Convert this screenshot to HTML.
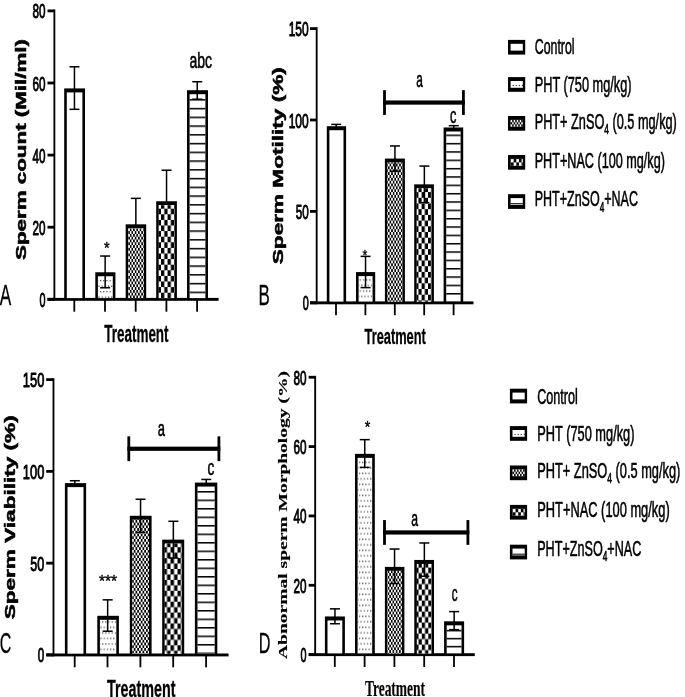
<!DOCTYPE html>
<html><head><meta charset="utf-8"><title>Figure</title>
<style>html,body{margin:0;padding:0;background:#fff;}svg{display:block;will-change:transform;filter:grayscale(1);}text{fill:#000;}</style>
</head><body>
<svg width="685" height="697" viewBox="0 0 685 697">
<defs>
<pattern id="dotsA" x="100.00" y="280.05" width="3.2" height="11" patternUnits="userSpaceOnUse">
<rect x="0" y="0" width="1.2" height="1.3" fill="#444"/><rect x="1.6" y="5.5" width="1.2" height="1.3" fill="#444"/></pattern>
<pattern id="diamA" x="161.00" y="203.10" width="3.280" height="5.600" patternUnits="userSpaceOnUse">
<rect width="3.280" height="5.600" fill="#fff"/><rect x="0" y="0" width="1.640" height="2.800" fill="#000"/><rect x="1.640" y="2.800" width="1.640" height="2.800" fill="#000"/></pattern>
<pattern id="checkA" x="161.00" y="203.10" width="6.560" height="11.200" patternUnits="userSpaceOnUse">
<rect width="6.560" height="11.200" fill="#fff"/><rect x="0" y="0" width="3.280" height="5.600" fill="#000"/><rect x="3.280" y="5.600" width="3.280" height="5.600" fill="#000"/></pattern>
<pattern id="stripeA" x="0" y="107.85" width="8" height="8.75" patternUnits="userSpaceOnUse">
<rect x="0" y="0" width="8" height="1.5" fill="#000"/></pattern>
<pattern id="dotsB" x="359.60" y="279.35" width="3.2" height="11" patternUnits="userSpaceOnUse">
<rect x="0" y="0" width="1.2" height="1.3" fill="#444"/><rect x="1.6" y="5.5" width="1.2" height="1.3" fill="#444"/></pattern>
<pattern id="diamB" x="421.60" y="192.10" width="3.200" height="5.700" patternUnits="userSpaceOnUse">
<rect width="3.200" height="5.700" fill="#fff"/><rect x="0" y="0" width="1.600" height="2.850" fill="#000"/><rect x="1.600" y="2.850" width="1.600" height="2.850" fill="#000"/></pattern>
<pattern id="checkB" x="421.60" y="192.10" width="6.400" height="11.400" patternUnits="userSpaceOnUse">
<rect width="6.400" height="11.400" fill="#fff"/><rect x="0" y="0" width="3.200" height="5.700" fill="#000"/><rect x="3.200" y="5.700" width="3.200" height="5.700" fill="#000"/></pattern>
<pattern id="stripeB" x="0" y="176.25" width="8" height="8.34" patternUnits="userSpaceOnUse">
<rect x="0" y="0" width="8" height="1.5" fill="#000"/></pattern>
<pattern id="dotsC" x="102.00" y="621.35" width="3.2" height="11" patternUnits="userSpaceOnUse">
<rect x="0" y="0" width="1.2" height="1.3" fill="#444"/><rect x="1.6" y="5.5" width="1.2" height="1.3" fill="#444"/></pattern>
<pattern id="diamC" x="170.50" y="547.20" width="3.500" height="5.450" patternUnits="userSpaceOnUse">
<rect width="3.500" height="5.450" fill="#fff"/><rect x="0" y="0" width="1.750" height="2.725" fill="#000"/><rect x="1.750" y="2.725" width="1.750" height="2.725" fill="#000"/></pattern>
<pattern id="checkC" x="170.50" y="547.20" width="7.000" height="10.900" patternUnits="userSpaceOnUse">
<rect width="7.000" height="10.900" fill="#fff"/><rect x="0" y="0" width="3.500" height="5.450" fill="#000"/><rect x="3.500" y="5.450" width="3.500" height="5.450" fill="#000"/></pattern>
<pattern id="stripeC" x="0" y="491.05" width="8" height="8.5" patternUnits="userSpaceOnUse">
<rect x="0" y="0" width="8" height="1.5" fill="#000"/></pattern>
<pattern id="dotsD" x="358.90" y="461.65" width="3.2" height="11" patternUnits="userSpaceOnUse">
<rect x="0" y="0" width="1.2" height="1.3" fill="#444"/><rect x="1.6" y="5.5" width="1.2" height="1.3" fill="#444"/></pattern>
<pattern id="diamD" x="421.80" y="567.60" width="3.250" height="5.500" patternUnits="userSpaceOnUse">
<rect width="3.250" height="5.500" fill="#fff"/><rect x="0" y="0" width="1.625" height="2.750" fill="#000"/><rect x="1.625" y="2.750" width="1.625" height="2.750" fill="#000"/></pattern>
<pattern id="checkD" x="421.80" y="567.60" width="6.500" height="11.000" patternUnits="userSpaceOnUse">
<rect width="6.500" height="11.000" fill="#fff"/><rect x="0" y="0" width="3.250" height="5.500" fill="#000"/><rect x="3.250" y="5.500" width="3.250" height="5.500" fill="#000"/></pattern>
<pattern id="stripeD" x="0" y="637.85" width="8" height="8.0" patternUnits="userSpaceOnUse">
<rect x="0" y="0" width="8" height="1.5" fill="#000"/></pattern>
</defs>
<rect width="685" height="697" fill="#fff"/>
<rect x="53.45" y="9.50" width="1.85" height="291.20" fill="#000"/>
<rect x="47.50" y="297.90" width="171.10" height="2.90" fill="#000"/>
<rect x="47.50" y="297.90" width="6.80" height="2.80" fill="#000"/>
<text x="39.6" y="306.86" font-family='"Liberation Sans", sans-serif' font-size="21" font-weight="normal" text-anchor="start" textLength="6.0" lengthAdjust="spacingAndGlyphs" stroke="#000" stroke-width="1.0" stroke-linejoin="round" >0</text>
<rect x="47.50" y="225.80" width="6.80" height="2.80" fill="#000"/>
<text x="32.6" y="234.76000000000002" font-family='"Liberation Sans", sans-serif' font-size="21" font-weight="normal" text-anchor="start" textLength="13.0" lengthAdjust="spacingAndGlyphs" stroke="#000" stroke-width="1.0" stroke-linejoin="round" >20</text>
<rect x="47.50" y="153.70" width="6.80" height="2.80" fill="#000"/>
<text x="32.6" y="162.66000000000003" font-family='"Liberation Sans", sans-serif' font-size="21" font-weight="normal" text-anchor="start" textLength="13.0" lengthAdjust="spacingAndGlyphs" stroke="#000" stroke-width="1.0" stroke-linejoin="round" >40</text>
<rect x="47.50" y="81.60" width="6.80" height="2.80" fill="#000"/>
<text x="32.6" y="90.56" font-family='"Liberation Sans", sans-serif' font-size="21" font-weight="normal" text-anchor="start" textLength="13.0" lengthAdjust="spacingAndGlyphs" stroke="#000" stroke-width="1.0" stroke-linejoin="round" >60</text>
<rect x="47.50" y="9.50" width="6.80" height="2.80" fill="#000"/>
<text x="32.6" y="18.460000000000033" font-family='"Liberation Sans", sans-serif' font-size="21" font-weight="normal" text-anchor="start" textLength="13.0" lengthAdjust="spacingAndGlyphs" stroke="#000" stroke-width="1.0" stroke-linejoin="round" >80</text>
<rect x="73.40" y="299.30" width="1.80" height="12.40" fill="#000"/>
<rect x="104.10" y="299.30" width="1.80" height="12.40" fill="#000"/>
<rect x="134.80" y="299.30" width="1.80" height="12.40" fill="#000"/>
<rect x="165.50" y="299.30" width="1.80" height="12.40" fill="#000"/>
<rect x="196.20" y="299.30" width="1.80" height="12.40" fill="#000"/>
<rect x="64.20" y="88.41" width="20.80" height="210.89" fill="#000"/>
<rect x="66.80" y="92.41" width="15.60" height="205.69" fill="#fff"/>
<line x1="74.45" y1="66.78" x2="74.45" y2="89.41" stroke="#000" stroke-width="1.5"/>
<rect x="69.45" y="66.03" width="10.00" height="1.50" fill="#000"/>
<line x1="74.45" y1="88.41" x2="74.45" y2="109.32" stroke="#000" stroke-width="1.5"/>
<rect x="69.45" y="108.57" width="10.00" height="1.50" fill="#000"/>
<rect x="95.30" y="272.26" width="20.10" height="27.04" fill="#000"/>
<rect x="97.90" y="276.26" width="14.90" height="21.84" fill="#fff"/>
<rect x="97.90" y="276.26" width="14.90" height="21.84" fill="url(#dotsA)"/>
<line x1="105.15" y1="256.04" x2="105.15" y2="273.26" stroke="#000" stroke-width="1.5"/>
<rect x="100.15" y="255.29" width="10.00" height="1.50" fill="#000"/>
<line x1="105.15" y1="272.26" x2="105.15" y2="287.76" stroke="#000" stroke-width="1.5"/>
<rect x="100.15" y="287.01" width="10.00" height="1.50" fill="#000"/>
<rect x="125.70" y="224.32" width="20.50" height="74.98" fill="#000"/>
<rect x="128.30" y="228.32" width="15.30" height="69.78" fill="#fff"/>
<rect x="128.30" y="228.32" width="15.30" height="69.78" fill="url(#diamA)"/>
<line x1="135.85" y1="198.36" x2="135.85" y2="225.32" stroke="#000" stroke-width="1.5"/>
<rect x="130.85" y="197.61" width="10.00" height="1.50" fill="#000"/>
<rect x="156.20" y="201.24" width="20.70" height="98.06" fill="#000"/>
<rect x="158.80" y="205.24" width="15.50" height="92.86" fill="#fff"/>
<rect x="158.80" y="205.24" width="15.50" height="92.86" fill="url(#checkA)"/>
<line x1="166.55" y1="170.24" x2="166.55" y2="202.24" stroke="#000" stroke-width="1.5"/>
<rect x="161.55" y="169.49" width="10.00" height="1.50" fill="#000"/>
<rect x="187.00" y="90.21" width="21.00" height="209.09" fill="#000"/>
<rect x="189.60" y="94.21" width="15.80" height="203.89" fill="#fff"/>
<rect x="189.60" y="94.21" width="15.80" height="203.89" fill="url(#stripeA)"/>
<line x1="197.25" y1="81.74" x2="197.25" y2="91.21" stroke="#000" stroke-width="1.5"/>
<rect x="192.25" y="80.99" width="10.00" height="1.50" fill="#000"/>
<line x1="197.25" y1="90.21" x2="197.25" y2="99.22" stroke="#000" stroke-width="1.5"/>
<rect x="192.25" y="98.47" width="10.00" height="1.50" fill="#000"/>
<rect x="315.75" y="27.20" width="1.85" height="277.00" fill="#000"/>
<rect x="310.00" y="301.40" width="163.50" height="2.90" fill="#000"/>
<rect x="310.00" y="301.40" width="6.60" height="2.80" fill="#000"/>
<text x="302.7" y="310.36" font-family='"Liberation Sans", sans-serif' font-size="21" font-weight="normal" text-anchor="start" textLength="6.0" lengthAdjust="spacingAndGlyphs" stroke="#000" stroke-width="1.0" stroke-linejoin="round" >0</text>
<rect x="310.00" y="210.00" width="6.60" height="2.80" fill="#000"/>
<text x="295.7" y="218.96" font-family='"Liberation Sans", sans-serif' font-size="21" font-weight="normal" text-anchor="start" textLength="13.0" lengthAdjust="spacingAndGlyphs" stroke="#000" stroke-width="1.0" stroke-linejoin="round" >50</text>
<rect x="310.00" y="118.60" width="6.60" height="2.80" fill="#000"/>
<text x="288.7" y="127.56" font-family='"Liberation Sans", sans-serif' font-size="21" font-weight="normal" text-anchor="start" textLength="20.0" lengthAdjust="spacingAndGlyphs" stroke="#000" stroke-width="1.0" stroke-linejoin="round" >100</text>
<rect x="310.00" y="27.20" width="6.60" height="2.80" fill="#000"/>
<text x="288.7" y="36.160000000000025" font-family='"Liberation Sans", sans-serif' font-size="21" font-weight="normal" text-anchor="start" textLength="20.0" lengthAdjust="spacingAndGlyphs" stroke="#000" stroke-width="1.0" stroke-linejoin="round" >150</text>
<rect x="335.10" y="302.80" width="1.80" height="12.40" fill="#000"/>
<rect x="364.50" y="302.80" width="1.80" height="12.40" fill="#000"/>
<rect x="393.90" y="302.80" width="1.80" height="12.40" fill="#000"/>
<rect x="423.30" y="302.80" width="1.80" height="12.40" fill="#000"/>
<rect x="452.70" y="302.80" width="1.80" height="12.40" fill="#000"/>
<rect x="326.80" y="126.22" width="19.30" height="176.58" fill="#000"/>
<rect x="329.40" y="130.22" width="14.10" height="171.38" fill="#fff"/>
<line x1="336.15" y1="124.39" x2="336.15" y2="127.22" stroke="#000" stroke-width="1.5"/>
<rect x="331.15" y="123.64" width="10.00" height="1.50" fill="#000"/>
<rect x="356.00" y="272.09" width="19.20" height="30.71" fill="#000"/>
<rect x="358.60" y="276.09" width="14.00" height="25.51" fill="#fff"/>
<rect x="358.60" y="276.09" width="14.00" height="25.51" fill="url(#dotsB)"/>
<line x1="365.55" y1="256.37" x2="365.55" y2="273.09" stroke="#000" stroke-width="1.5"/>
<rect x="360.55" y="255.62" width="10.00" height="1.50" fill="#000"/>
<line x1="365.55" y1="272.09" x2="365.55" y2="287.63" stroke="#000" stroke-width="1.5"/>
<rect x="360.55" y="286.88" width="10.00" height="1.50" fill="#000"/>
<rect x="384.90" y="158.57" width="20.00" height="144.23" fill="#000"/>
<rect x="387.50" y="162.57" width="14.80" height="139.03" fill="#fff"/>
<rect x="387.50" y="162.57" width="14.80" height="139.03" fill="url(#diamB)"/>
<line x1="394.95" y1="145.96" x2="394.95" y2="159.57" stroke="#000" stroke-width="1.5"/>
<rect x="389.95" y="145.21" width="10.00" height="1.50" fill="#000"/>
<line x1="394.95" y1="158.57" x2="394.95" y2="171.18" stroke="#000" stroke-width="1.5"/>
<rect x="389.95" y="170.43" width="10.00" height="1.50" fill="#000"/>
<rect x="414.20" y="184.35" width="19.70" height="118.45" fill="#000"/>
<rect x="416.80" y="188.35" width="14.50" height="113.25" fill="#fff"/>
<rect x="416.80" y="188.35" width="14.50" height="113.25" fill="url(#checkB)"/>
<line x1="424.35" y1="166.07" x2="424.35" y2="185.35" stroke="#000" stroke-width="1.5"/>
<rect x="419.35" y="165.32" width="10.00" height="1.50" fill="#000"/>
<line x1="424.35" y1="184.35" x2="424.35" y2="202.63" stroke="#000" stroke-width="1.5"/>
<rect x="419.35" y="201.88" width="10.00" height="1.50" fill="#000"/>
<rect x="443.60" y="127.49" width="19.60" height="175.31" fill="#000"/>
<rect x="446.20" y="131.49" width="14.40" height="170.11" fill="#fff"/>
<rect x="446.20" y="131.49" width="14.40" height="170.11" fill="url(#stripeB)"/>
<line x1="453.75" y1="125.67" x2="453.75" y2="128.49" stroke="#000" stroke-width="1.5"/>
<rect x="448.75" y="124.92" width="10.00" height="1.50" fill="#000"/>
<rect x="52.55" y="378.20" width="1.85" height="278.10" fill="#000"/>
<rect x="46.20" y="653.50" width="182.40" height="2.90" fill="#000"/>
<rect x="46.20" y="653.50" width="7.20" height="2.80" fill="#000"/>
<text x="37.8" y="662.4599999999999" font-family='"Liberation Sans", sans-serif' font-size="21" font-weight="normal" text-anchor="start" textLength="6.5" lengthAdjust="spacingAndGlyphs" stroke="#000" stroke-width="1.0" stroke-linejoin="round" >0</text>
<rect x="46.20" y="561.74" width="7.20" height="2.80" fill="#000"/>
<text x="30.299999999999997" y="570.6949999999999" font-family='"Liberation Sans", sans-serif' font-size="21" font-weight="normal" text-anchor="start" textLength="14.0" lengthAdjust="spacingAndGlyphs" stroke="#000" stroke-width="1.0" stroke-linejoin="round" >50</text>
<rect x="46.20" y="469.97" width="7.20" height="2.80" fill="#000"/>
<text x="22.799999999999997" y="478.93" font-family='"Liberation Sans", sans-serif' font-size="21" font-weight="normal" text-anchor="start" textLength="21.5" lengthAdjust="spacingAndGlyphs" stroke="#000" stroke-width="1.0" stroke-linejoin="round" >100</text>
<rect x="46.20" y="378.20" width="7.20" height="2.80" fill="#000"/>
<text x="22.799999999999997" y="387.16499999999996" font-family='"Liberation Sans", sans-serif' font-size="21" font-weight="normal" text-anchor="start" textLength="21.5" lengthAdjust="spacingAndGlyphs" stroke="#000" stroke-width="1.0" stroke-linejoin="round" >150</text>
<rect x="73.80" y="654.90" width="1.80" height="12.40" fill="#000"/>
<rect x="106.60" y="654.90" width="1.80" height="12.40" fill="#000"/>
<rect x="139.50" y="654.90" width="1.80" height="12.40" fill="#000"/>
<rect x="172.30" y="654.90" width="1.80" height="12.40" fill="#000"/>
<rect x="205.20" y="654.90" width="1.80" height="12.40" fill="#000"/>
<rect x="64.90" y="483.12" width="21.20" height="171.78" fill="#000"/>
<rect x="67.50" y="487.12" width="16.00" height="166.58" fill="#fff"/>
<line x1="74.85" y1="480.73" x2="74.85" y2="484.12" stroke="#000" stroke-width="1.5"/>
<rect x="69.85" y="479.98" width="10.00" height="1.50" fill="#000"/>
<rect x="97.30" y="615.81" width="21.60" height="39.09" fill="#000"/>
<rect x="99.90" y="619.81" width="16.40" height="33.89" fill="#fff"/>
<rect x="99.90" y="619.81" width="16.40" height="33.89" fill="url(#dotsC)"/>
<line x1="107.65" y1="599.84" x2="107.65" y2="616.81" stroke="#000" stroke-width="1.5"/>
<rect x="102.65" y="599.09" width="10.00" height="1.50" fill="#000"/>
<line x1="107.65" y1="615.81" x2="107.65" y2="631.22" stroke="#000" stroke-width="1.5"/>
<rect x="102.65" y="630.47" width="10.00" height="1.50" fill="#000"/>
<rect x="129.80" y="515.78" width="21.80" height="139.12" fill="#000"/>
<rect x="132.40" y="519.78" width="16.60" height="133.92" fill="#fff"/>
<rect x="132.40" y="519.78" width="16.60" height="133.92" fill="url(#diamC)"/>
<line x1="140.55" y1="499.27" x2="140.55" y2="516.78" stroke="#000" stroke-width="1.5"/>
<rect x="135.55" y="498.52" width="10.00" height="1.50" fill="#000"/>
<line x1="140.55" y1="515.78" x2="140.55" y2="532.30" stroke="#000" stroke-width="1.5"/>
<rect x="135.55" y="531.55" width="10.00" height="1.50" fill="#000"/>
<rect x="162.20" y="539.64" width="22.00" height="115.26" fill="#000"/>
<rect x="164.80" y="543.64" width="16.80" height="110.06" fill="#fff"/>
<rect x="164.80" y="543.64" width="16.80" height="110.06" fill="url(#checkC)"/>
<line x1="173.35" y1="521.29" x2="173.35" y2="540.64" stroke="#000" stroke-width="1.5"/>
<rect x="168.35" y="520.54" width="10.00" height="1.50" fill="#000"/>
<line x1="173.35" y1="539.64" x2="173.35" y2="558.00" stroke="#000" stroke-width="1.5"/>
<rect x="168.35" y="557.25" width="10.00" height="1.50" fill="#000"/>
<rect x="194.90" y="482.57" width="22.40" height="172.33" fill="#000"/>
<rect x="197.50" y="486.57" width="17.20" height="167.13" fill="#fff"/>
<rect x="197.50" y="486.57" width="17.20" height="167.13" fill="url(#stripeC)"/>
<line x1="206.25" y1="479.45" x2="206.25" y2="483.57" stroke="#000" stroke-width="1.5"/>
<rect x="201.25" y="478.70" width="10.00" height="1.50" fill="#000"/>
<rect x="314.25" y="375.84" width="1.85" height="280.16" fill="#000"/>
<rect x="308.70" y="653.20" width="166.10" height="2.90" fill="#000"/>
<rect x="308.70" y="653.20" width="6.40" height="2.80" fill="#000"/>
<text x="300.5" y="662.16" font-family='"Liberation Sans", sans-serif' font-size="21" font-weight="normal" text-anchor="start" textLength="6.0" lengthAdjust="spacingAndGlyphs" stroke="#000" stroke-width="1.0" stroke-linejoin="round" >0</text>
<rect x="308.70" y="583.86" width="6.40" height="2.80" fill="#000"/>
<text x="293.5" y="592.8199999999999" font-family='"Liberation Sans", sans-serif' font-size="21" font-weight="normal" text-anchor="start" textLength="13.0" lengthAdjust="spacingAndGlyphs" stroke="#000" stroke-width="1.0" stroke-linejoin="round" >20</text>
<rect x="308.70" y="514.52" width="6.40" height="2.80" fill="#000"/>
<text x="293.5" y="523.48" font-family='"Liberation Sans", sans-serif' font-size="21" font-weight="normal" text-anchor="start" textLength="13.0" lengthAdjust="spacingAndGlyphs" stroke="#000" stroke-width="1.0" stroke-linejoin="round" >40</text>
<rect x="308.70" y="445.18" width="6.40" height="2.80" fill="#000"/>
<text x="293.5" y="454.14000000000004" font-family='"Liberation Sans", sans-serif' font-size="21" font-weight="normal" text-anchor="start" textLength="13.0" lengthAdjust="spacingAndGlyphs" stroke="#000" stroke-width="1.0" stroke-linejoin="round" >60</text>
<rect x="308.70" y="375.84" width="6.40" height="2.80" fill="#000"/>
<text x="293.5" y="384.8" font-family='"Liberation Sans", sans-serif' font-size="21" font-weight="normal" text-anchor="start" textLength="13.0" lengthAdjust="spacingAndGlyphs" stroke="#000" stroke-width="1.0" stroke-linejoin="round" >80</text>
<rect x="333.90" y="654.60" width="1.80" height="12.40" fill="#000"/>
<rect x="363.70" y="654.60" width="1.80" height="12.40" fill="#000"/>
<rect x="393.50" y="654.60" width="1.80" height="12.40" fill="#000"/>
<rect x="423.30" y="654.60" width="1.80" height="12.40" fill="#000"/>
<rect x="453.10" y="654.60" width="1.80" height="12.40" fill="#000"/>
<rect x="324.90" y="616.46" width="20.00" height="38.14" fill="#000"/>
<rect x="327.50" y="620.46" width="14.80" height="32.94" fill="#fff"/>
<line x1="334.95" y1="608.84" x2="334.95" y2="617.46" stroke="#000" stroke-width="1.5"/>
<rect x="329.95" y="608.09" width="10.00" height="1.50" fill="#000"/>
<line x1="334.95" y1="616.46" x2="334.95" y2="623.74" stroke="#000" stroke-width="1.5"/>
<rect x="329.95" y="622.99" width="10.00" height="1.50" fill="#000"/>
<rect x="355.00" y="453.86" width="19.80" height="200.74" fill="#000"/>
<rect x="357.60" y="457.86" width="14.60" height="195.54" fill="#fff"/>
<rect x="357.60" y="457.86" width="14.60" height="195.54" fill="url(#dotsD)"/>
<line x1="364.75" y1="439.65" x2="364.75" y2="454.86" stroke="#000" stroke-width="1.5"/>
<rect x="359.75" y="438.90" width="10.00" height="1.50" fill="#000"/>
<line x1="364.75" y1="453.86" x2="364.75" y2="467.38" stroke="#000" stroke-width="1.5"/>
<rect x="359.75" y="466.63" width="10.00" height="1.50" fill="#000"/>
<rect x="384.90" y="566.88" width="19.50" height="87.72" fill="#000"/>
<rect x="387.50" y="570.88" width="14.30" height="82.52" fill="#fff"/>
<rect x="387.50" y="570.88" width="14.30" height="82.52" fill="url(#diamD)"/>
<line x1="394.55" y1="549.03" x2="394.55" y2="567.88" stroke="#000" stroke-width="1.5"/>
<rect x="389.55" y="548.28" width="10.00" height="1.50" fill="#000"/>
<line x1="394.55" y1="566.88" x2="394.55" y2="583.53" stroke="#000" stroke-width="1.5"/>
<rect x="389.55" y="582.78" width="10.00" height="1.50" fill="#000"/>
<rect x="414.30" y="559.95" width="19.70" height="94.65" fill="#000"/>
<rect x="416.90" y="563.95" width="14.50" height="89.45" fill="#fff"/>
<rect x="416.90" y="563.95" width="14.50" height="89.45" fill="url(#checkD)"/>
<line x1="424.35" y1="542.96" x2="424.35" y2="560.95" stroke="#000" stroke-width="1.5"/>
<rect x="419.35" y="542.21" width="10.00" height="1.50" fill="#000"/>
<line x1="424.35" y1="559.95" x2="424.35" y2="576.25" stroke="#000" stroke-width="1.5"/>
<rect x="419.35" y="575.50" width="10.00" height="1.50" fill="#000"/>
<rect x="444.10" y="621.32" width="20.00" height="33.28" fill="#000"/>
<rect x="446.70" y="625.32" width="14.80" height="28.08" fill="#fff"/>
<rect x="446.70" y="625.32" width="14.80" height="28.08" fill="url(#stripeD)"/>
<line x1="454.15" y1="611.61" x2="454.15" y2="622.32" stroke="#000" stroke-width="1.5"/>
<rect x="449.15" y="610.86" width="10.00" height="1.50" fill="#000"/>
<line x1="454.15" y1="621.32" x2="454.15" y2="629.64" stroke="#000" stroke-width="1.5"/>
<rect x="449.15" y="628.89" width="10.00" height="1.50" fill="#000"/>
<text x="-0.3" y="304.5" font-family='"Liberation Sans", sans-serif' font-size="29.5" font-weight="normal" text-anchor="start" textLength="11.5" lengthAdjust="spacingAndGlyphs" stroke="#000" stroke-width="0.3" stroke-linejoin="round" >A</text>
<text x="258.6" y="304.5" font-family='"Liberation Sans", sans-serif' font-size="29.5" font-weight="normal" text-anchor="start" textLength="11.3" lengthAdjust="spacingAndGlyphs" stroke="#000" stroke-width="0.3" stroke-linejoin="round" >B</text>
<text x="-0.3" y="653.3" font-family='"Liberation Sans", sans-serif' font-size="29.5" font-weight="normal" text-anchor="start" textLength="11.6" lengthAdjust="spacingAndGlyphs" stroke="#000" stroke-width="0.3" stroke-linejoin="round" >C</text>
<text x="258.8" y="652.9" font-family='"Liberation Sans", sans-serif' font-size="29.5" font-weight="normal" text-anchor="start" textLength="11.7" lengthAdjust="spacingAndGlyphs" stroke="#000" stroke-width="0.3" stroke-linejoin="round" >D</text>
<text x="104.2" y="342.2" font-family='"Liberation Sans", sans-serif' font-size="23" font-weight="bold" text-anchor="start" textLength="64.4" lengthAdjust="spacingAndGlyphs" stroke="#000" stroke-width="0.3" stroke-linejoin="round" >Treatment</text>
<text x="364.5" y="343.9" font-family='"Liberation Sans", sans-serif' font-size="22.5" font-weight="bold" text-anchor="start" textLength="61.4" lengthAdjust="spacingAndGlyphs" stroke="#000" stroke-width="0.3" stroke-linejoin="round" >Treatment</text>
<text x="107.0" y="696.8" font-family='"Liberation Sans", sans-serif' font-size="23" font-weight="bold" text-anchor="start" textLength="68.4" lengthAdjust="spacingAndGlyphs" stroke="#000" stroke-width="0.3" stroke-linejoin="round" >Treatment</text>
<text x="364.9" y="696.4" font-family='"Liberation Serif", serif' font-size="23.5" font-weight="bold" text-anchor="start" textLength="60.2" lengthAdjust="spacingAndGlyphs" stroke="#000" stroke-width="0.15" stroke-linejoin="round" >Treatment</text>
<text transform="translate(25.6,260) rotate(-90)" x="0" y="0" font-family='"Liberation Sans", sans-serif' font-size="14" font-weight="bold" textLength="221" lengthAdjust="spacingAndGlyphs" stroke="#000" stroke-width="0.5">Sperm count (Mil/ml)</text>
<text transform="translate(282.6,264.2) rotate(-90)" x="0" y="0" font-family='"Liberation Sans", sans-serif' font-size="14" font-weight="bold" textLength="197" lengthAdjust="spacingAndGlyphs" stroke="#000" stroke-width="0.5">Sperm Motility (%)</text>
<text transform="translate(15.2,619.3) rotate(-90)" x="0" y="0" font-family='"Liberation Sans", sans-serif' font-size="14" font-weight="bold" textLength="204" lengthAdjust="spacingAndGlyphs" stroke="#000" stroke-width="0.5">Sperm Viability (%)</text>
<text transform="translate(286.9,659) rotate(-90)" x="0" y="0" font-family='"Liberation Serif", serif' font-size="11.5" font-weight="bold" textLength="288" lengthAdjust="spacingAndGlyphs" stroke="#000" stroke-width="0.15">Abnormal sperm Morphology (%)</text>
<text x="189.5" y="68.4" font-family='"Liberation Sans", sans-serif' font-size="22.5" font-weight="normal" text-anchor="start" textLength="22.6" lengthAdjust="spacingAndGlyphs" stroke="#000" stroke-width="0.6" stroke-linejoin="round" >abc</text>
<text x="104.0" y="254.2" font-family='"Liberation Sans", sans-serif' font-size="17" font-weight="normal" text-anchor="start" textLength="5.6" lengthAdjust="spacingAndGlyphs" stroke="#000" stroke-width="0.4" stroke-linejoin="round" >*</text>
<text x="362.4" y="259.6" font-family='"Liberation Sans", sans-serif' font-size="15" font-weight="normal" text-anchor="start" textLength="4.8" lengthAdjust="spacingAndGlyphs" stroke="#000" stroke-width="0.4" stroke-linejoin="round" >*</text>
<text x="98.9" y="586.6" font-family='"Liberation Sans", sans-serif' font-size="17" font-weight="normal" text-anchor="start" textLength="18.2" lengthAdjust="spacingAndGlyphs" stroke="#000" stroke-width="0.4" stroke-linejoin="round" >***</text>
<text x="364.7" y="432.8" font-family='"Liberation Sans", sans-serif' font-size="17" font-weight="normal" text-anchor="start" textLength="5.6" lengthAdjust="spacingAndGlyphs" stroke="#000" stroke-width="0.4" stroke-linejoin="round" >*</text>
<text x="416.3" y="87" font-family='"Liberation Sans", sans-serif' font-size="22" font-weight="normal" text-anchor="start" textLength="6.6" lengthAdjust="spacingAndGlyphs" stroke="#000" stroke-width="0.6" stroke-linejoin="round" >a</text>
<text x="450.0" y="123.2" font-family='"Liberation Sans", sans-serif' font-size="22" font-weight="normal" text-anchor="start" textLength="6.4" lengthAdjust="spacingAndGlyphs" stroke="#000" stroke-width="0.6" stroke-linejoin="round" >c</text>
<text x="157.7" y="435.8" font-family='"Liberation Sans", sans-serif' font-size="22" font-weight="normal" text-anchor="start" textLength="7.2" lengthAdjust="spacingAndGlyphs" stroke="#000" stroke-width="0.6" stroke-linejoin="round" >a</text>
<text x="207.6" y="474.5" font-family='"Liberation Sans", sans-serif' font-size="22" font-weight="normal" text-anchor="start" textLength="6.8" lengthAdjust="spacingAndGlyphs" stroke="#000" stroke-width="0.6" stroke-linejoin="round" >c</text>
<text x="411.3" y="526.4" font-family='"Liberation Sans", sans-serif' font-size="22" font-weight="normal" text-anchor="start" textLength="6.8" lengthAdjust="spacingAndGlyphs" stroke="#000" stroke-width="0.6" stroke-linejoin="round" >a</text>
<text x="451.8" y="601.2" font-family='"Liberation Sans", sans-serif' font-size="22" font-weight="normal" text-anchor="start" textLength="5.8" lengthAdjust="spacingAndGlyphs" stroke="#000" stroke-width="0.6" stroke-linejoin="round" >c</text>
<rect x="383.10" y="100.45" width="81.70" height="4.20" fill="#000"/>
<rect x="383.10" y="90.15" width="2.80" height="24.80" fill="#000"/>
<rect x="462.00" y="90.15" width="2.80" height="24.80" fill="#000"/>
<rect x="127.40" y="446.65" width="92.90" height="4.20" fill="#000"/>
<rect x="127.40" y="436.35" width="2.80" height="24.80" fill="#000"/>
<rect x="217.50" y="436.35" width="2.80" height="24.80" fill="#000"/>
<rect x="383.10" y="530.35" width="86.20" height="4.20" fill="#000"/>
<rect x="383.10" y="520.05" width="2.80" height="24.80" fill="#000"/>
<rect x="466.50" y="520.05" width="2.80" height="24.80" fill="#000"/>
<rect x="508.00" y="39.90" width="17.20" height="14.70" fill="#000"/>
<rect x="510.60" y="43.80" width="12.20" height="6.80" fill="#fff"/>
<text x="534.6999999999999" y="54.4" font-family='"Liberation Sans", sans-serif' font-size="22" font-weight="normal" text-anchor="start" textLength="39.9" lengthAdjust="spacingAndGlyphs" stroke="#000" stroke-width="0.6" stroke-linejoin="round" >Control</text>
<rect x="508.00" y="77.10" width="17.20" height="14.70" fill="#000"/>
<rect x="510.60" y="81.00" width="12.20" height="6.80" fill="#fff"/>
<rect x="512.60" y="84.90" width="1.10" height="1.20" fill="#333"/>
<rect x="515.70" y="84.90" width="1.10" height="1.20" fill="#333"/>
<rect x="518.80" y="84.90" width="1.10" height="1.20" fill="#333"/>
<rect x="521.90" y="84.90" width="1.10" height="1.20" fill="#333"/>
<text x="534.6999999999999" y="91.5" font-family='"Liberation Sans", sans-serif' font-size="22" font-weight="normal" text-anchor="start" textLength="96.89999999999999" lengthAdjust="spacingAndGlyphs" stroke="#000" stroke-width="0.6" stroke-linejoin="round" >PHT (750 mg/kg)</text>
<rect x="508.00" y="116.00" width="17.20" height="14.70" fill="#000"/>
<rect x="510.60" y="119.90" width="12.20" height="6.80" fill="#fff"/>
<rect x="510.60" y="119.90" width="12.20" height="6.80" fill="#000"/>
<rect x="510.70" y="120.00" width="1.50" height="2.20" fill="#fff"/>
<rect x="513.70" y="120.00" width="1.50" height="2.20" fill="#fff"/>
<rect x="516.70" y="120.00" width="1.50" height="2.20" fill="#fff"/>
<rect x="519.70" y="120.00" width="1.50" height="2.20" fill="#fff"/>
<rect x="512.20" y="122.20" width="1.50" height="2.20" fill="#fff"/>
<rect x="515.20" y="122.20" width="1.50" height="2.20" fill="#fff"/>
<rect x="518.20" y="122.20" width="1.50" height="2.20" fill="#fff"/>
<rect x="521.20" y="122.20" width="1.50" height="2.20" fill="#fff"/>
<rect x="510.70" y="124.40" width="1.50" height="2.20" fill="#fff"/>
<rect x="513.70" y="124.40" width="1.50" height="2.20" fill="#fff"/>
<rect x="516.70" y="124.40" width="1.50" height="2.20" fill="#fff"/>
<rect x="519.70" y="124.40" width="1.50" height="2.20" fill="#fff"/>
<text x="534.6999999999999" y="128.7" font-family='"Liberation Sans", sans-serif' font-size="22" font-weight="normal" text-anchor="start" textLength="142.10000000000002" lengthAdjust="spacingAndGlyphs" stroke="#000" stroke-width="0.6" stroke-linejoin="round" >PHT+ ZnSO<tspan font-size="14.5" dy="5.5">4</tspan><tspan dy="-5.5"> (0.5 mg/kg)</tspan></text>
<rect x="508.00" y="155.00" width="17.20" height="14.70" fill="#000"/>
<rect x="510.60" y="158.90" width="12.20" height="6.80" fill="#fff"/>
<rect x="510.60" y="158.90" width="12.20" height="6.80" fill="#000"/>
<rect x="511.00" y="159.10" width="2.65" height="3.30" fill="#fff"/>
<rect x="516.30" y="159.10" width="2.65" height="3.30" fill="#fff"/>
<rect x="521.60" y="159.10" width="1.20" height="3.30" fill="#fff"/>
<rect x="513.65" y="162.40" width="2.65" height="3.30" fill="#fff"/>
<rect x="518.95" y="162.40" width="2.65" height="3.30" fill="#fff"/>
<text x="534.6999999999999" y="167.9" font-family='"Liberation Sans", sans-serif' font-size="22" font-weight="normal" text-anchor="start" textLength="130.20000000000002" lengthAdjust="spacingAndGlyphs" stroke="#000" stroke-width="0.6" stroke-linejoin="round" >PHT+NAC (100 mg/kg)</text>
<rect x="508.00" y="194.20" width="17.20" height="14.70" fill="#000"/>
<rect x="510.60" y="198.10" width="12.20" height="6.80" fill="#fff"/>
<rect x="510.60" y="203.20" width="12.20" height="1.00" fill="#000"/>
<text x="534.6999999999999" y="206.1" font-family='"Liberation Sans", sans-serif' font-size="22" font-weight="normal" text-anchor="start" textLength="103.3" lengthAdjust="spacingAndGlyphs" stroke="#000" stroke-width="0.6" stroke-linejoin="round" >PHT+ZnSO<tspan font-size="14.5" dy="5.5">4</tspan><tspan dy="-5.5">+NAC</tspan></text>
<rect x="509.90" y="388.70" width="17.20" height="14.70" fill="#000"/>
<rect x="512.50" y="392.60" width="12.20" height="6.80" fill="#fff"/>
<text x="537.1999999999999" y="403.5" font-family='"Liberation Sans", sans-serif' font-size="22" font-weight="normal" text-anchor="start" textLength="40.5" lengthAdjust="spacingAndGlyphs" stroke="#000" stroke-width="0.6" stroke-linejoin="round" >Control</text>
<rect x="509.90" y="426.10" width="17.20" height="14.70" fill="#000"/>
<rect x="512.50" y="430.00" width="12.20" height="6.80" fill="#fff"/>
<rect x="514.50" y="433.90" width="1.10" height="1.20" fill="#333"/>
<rect x="517.60" y="433.90" width="1.10" height="1.20" fill="#333"/>
<rect x="520.70" y="433.90" width="1.10" height="1.20" fill="#333"/>
<rect x="523.80" y="433.90" width="1.10" height="1.20" fill="#333"/>
<text x="537.1999999999999" y="440.6" font-family='"Liberation Sans", sans-serif' font-size="22" font-weight="normal" text-anchor="start" textLength="97.3" lengthAdjust="spacingAndGlyphs" stroke="#000" stroke-width="0.6" stroke-linejoin="round" >PHT (750 mg/kg)</text>
<rect x="509.90" y="465.50" width="17.20" height="14.70" fill="#000"/>
<rect x="512.50" y="469.40" width="12.20" height="6.80" fill="#fff"/>
<rect x="512.50" y="469.40" width="12.20" height="6.80" fill="#000"/>
<rect x="512.60" y="469.50" width="1.50" height="2.20" fill="#fff"/>
<rect x="515.60" y="469.50" width="1.50" height="2.20" fill="#fff"/>
<rect x="518.60" y="469.50" width="1.50" height="2.20" fill="#fff"/>
<rect x="521.60" y="469.50" width="1.50" height="2.20" fill="#fff"/>
<rect x="514.10" y="471.70" width="1.50" height="2.20" fill="#fff"/>
<rect x="517.10" y="471.70" width="1.50" height="2.20" fill="#fff"/>
<rect x="520.10" y="471.70" width="1.50" height="2.20" fill="#fff"/>
<rect x="523.10" y="471.70" width="1.50" height="2.20" fill="#fff"/>
<rect x="512.60" y="473.90" width="1.50" height="2.20" fill="#fff"/>
<rect x="515.60" y="473.90" width="1.50" height="2.20" fill="#fff"/>
<rect x="518.60" y="473.90" width="1.50" height="2.20" fill="#fff"/>
<rect x="521.60" y="473.90" width="1.50" height="2.20" fill="#fff"/>
<text x="537.1999999999999" y="477.7" font-family='"Liberation Sans", sans-serif' font-size="22" font-weight="normal" text-anchor="start" textLength="143.10000000000002" lengthAdjust="spacingAndGlyphs" stroke="#000" stroke-width="0.6" stroke-linejoin="round" >PHT+ ZnSO<tspan font-size="14.5" dy="5.5">4</tspan><tspan dy="-5.5"> (0.5 mg/kg)</tspan></text>
<rect x="509.90" y="504.90" width="17.20" height="14.70" fill="#000"/>
<rect x="512.50" y="508.80" width="12.20" height="6.80" fill="#fff"/>
<rect x="512.50" y="508.80" width="12.20" height="6.80" fill="#000"/>
<rect x="512.90" y="509.00" width="2.65" height="3.30" fill="#fff"/>
<rect x="518.20" y="509.00" width="2.65" height="3.30" fill="#fff"/>
<rect x="523.50" y="509.00" width="1.20" height="3.30" fill="#fff"/>
<rect x="515.55" y="512.30" width="2.65" height="3.30" fill="#fff"/>
<rect x="520.85" y="512.30" width="2.65" height="3.30" fill="#fff"/>
<text x="537.1999999999999" y="517.3" font-family='"Liberation Sans", sans-serif' font-size="22" font-weight="normal" text-anchor="start" textLength="132.5" lengthAdjust="spacingAndGlyphs" stroke="#000" stroke-width="0.6" stroke-linejoin="round" >PHT+NAC (100 mg/kg)</text>
<rect x="509.90" y="544.70" width="17.20" height="14.70" fill="#000"/>
<rect x="512.50" y="548.60" width="12.20" height="6.80" fill="#fff"/>
<rect x="512.50" y="553.70" width="12.20" height="1.00" fill="#000"/>
<text x="537.1999999999999" y="555.9" font-family='"Liberation Sans", sans-serif' font-size="22" font-weight="normal" text-anchor="start" textLength="104.1" lengthAdjust="spacingAndGlyphs" stroke="#000" stroke-width="0.6" stroke-linejoin="round" >PHT+ZnSO<tspan font-size="14.5" dy="5.5">4</tspan><tspan dy="-5.5">+NAC</tspan></text>
</svg>
</body></html>
